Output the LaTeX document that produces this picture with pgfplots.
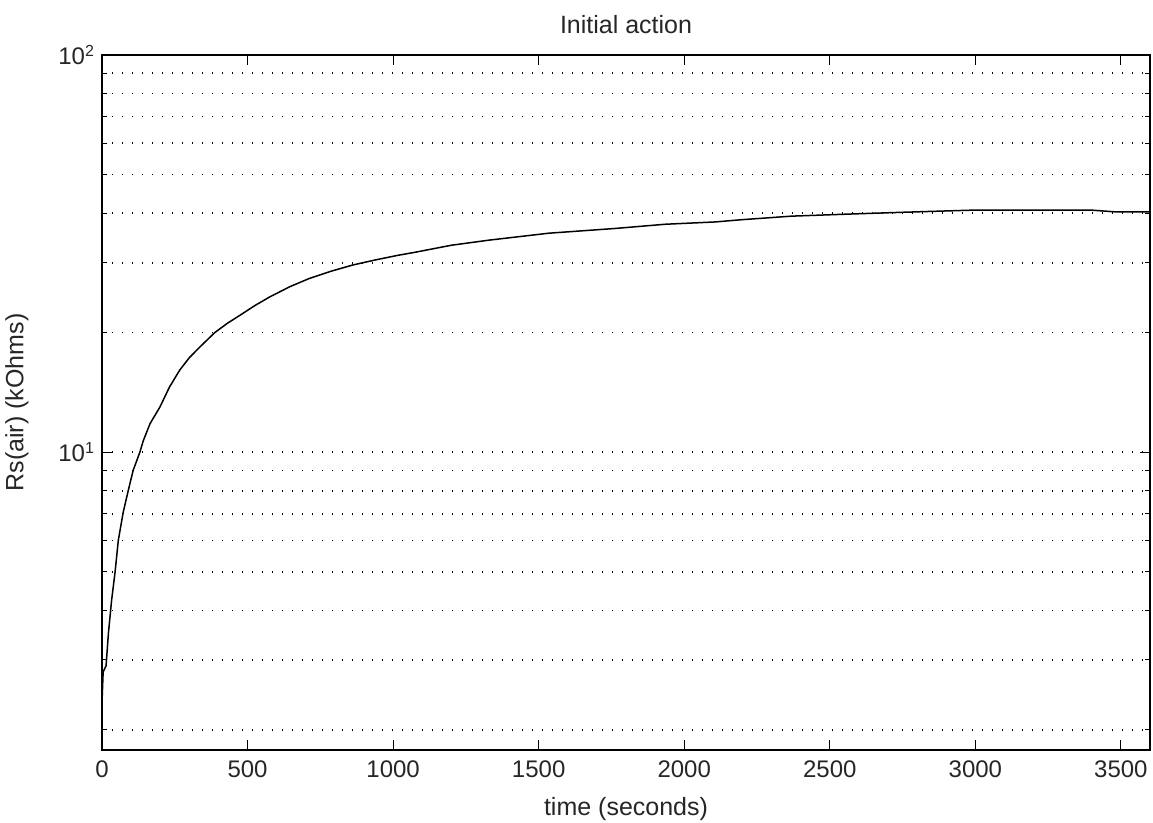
\documentclass[border=0pt]{standalone}
\usepackage{pgfplots}
\pgfplotsset{compat=1.18}
\usepackage{fontspec}
\setmainfont{Liberation Sans}

\begin{document}
\begin{tikzpicture}
\begin{axis}[
    scale only axis,
    width=524pt, height=347.5pt,
    ymode=log,
    xmin=0, xmax=3600,
    ymin=1.78, ymax=100,
    xtick={0,500,1000,1500,2000,2500,3000,3500},
    xticklabels={0,500,1000,1500,2000,2500,3000,3500},
    ytick={10,100},
    yticklabels={10\textsuperscript{1},10\textsuperscript{2}},
    minor ytick={2,3,4,5,6,7,8,9,20,30,40,50,60,70,80,90},
    ymajorgrids=true, yminorgrids=true,
    grid style={black, line width=0.8pt, dash pattern=on 0.7pt off 4.3pt},
    major grid style={black, line width=0.8pt, dash pattern=on 0.7pt off 4.3pt},
    tick align=inside,
    major tick length=5pt, minor tick length=2.5pt,
    tick style={black, line width=0.5pt},
    axis line style={line width=0.8pt},
    ticklabel style={font=\fontsize{12}{14}\selectfont, black!85},
    xticklabel style={yshift=-2pt},
    title={Initial action},
    title style={font=\fontsize{12.5}{15}\selectfont, black!85, yshift=1pt},
    xlabel={time (seconds)},
    ylabel={Rs(air) (kOhms)},
    label style={font=\fontsize{12.5}{15}\selectfont, black!85},
    xlabel style={yshift=-3pt},
    ylabel style={yshift=8pt},
]
\addplot[black, line width=0.75pt] coordinates {
(0,2.35) (4,2.8) (14,2.9) (22,3.5) (33,4.24) (45,5.0) (56,6.0) (73,7.07)
(90,8.0) (107,9.0) (130,10.0) (142,10.7) (165,11.8) (199,13.0) (232,14.6)
(267,16.1) (300,17.3) (336,18.4) (387,20) (430,21.1) (473,22.1) (525,23.4)
(576,24.6) (645,26.1) (713,27.4) (790,28.6) (861,29.6) (940,30.5) (1015,31.3)
(1078,31.9) (1200,33.2) (1330,34.2) (1535,35.6) (1764,36.6) (1935,37.5)
(2107,38.0) (2197,38.5) (2369,39.3) (2575,39.8) (2757,40.2) (2997,40.7)
(3397,40.7) (3477,40.3) (3600,40.3)
};
\end{axis}
\pgfresetboundingbox
\path[use as bounding box] ([shift={(-51pt,-36pt)}]current axis.south west) rectangle ([shift={(1.5pt,27.5pt)}]current axis.north east);
\end{tikzpicture}
\end{document}
